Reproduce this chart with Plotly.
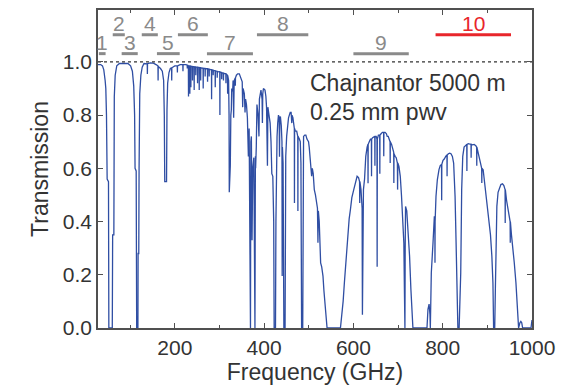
import plotly.graph_objects as go

# ---- spectrum: atmospheric transmission, Chajnantor 5000 m, 0.25 mm pwv ----
freq_ghz = [
    28, 34, 38, 41, 44, 45.5, 47, 48.5, 51.5, 52.3, 60.0, 60.8, 63.5, 64.5, 66.5, 70, 76, 85, 95,
    101, 105, 108, 110, 111, 113.5, 114.6, 117.4, 117.8, 119.3, 120, 121.5, 124, 127, 131,
    136, 138.3, 138.6, 138.9, 145, 152, 158, 162.3, 162.6, 162.9, 168, 172, 175, 176.5, 177.5,
    181.5, 182.5, 184, 187, 190, 192.8, 193.1, 193.4, 200, 205.5, 205.8, 206.1, 212, 218,
    218.3, 218.6, 225,
    227.7, 228, 228.3, 230.4, 230.7, 231, 233.4, 233.7, 234, 235.7, 236, 236.3, 239.4, 239.7, 240,
    243.1, 243.4, 243.7, 246.7, 247, 247.3, 250.7, 251, 251.3, 254.4, 254.7, 255, 257.7, 258, 258.3,
    263.3, 263.6, 263.9, 267.7, 268, 268.3, 273.1, 273.4, 273.7, 276.7, 277, 277.3, 282.1, 282.4, 282.7,
    285.7, 286, 286.3, 290.3, 290.6, 290.9, 294.7, 295, 295.3, 300.7, 301, 301.3, 304.7, 305, 305.3,
    308.7, 309, 309.3, 314.3, 314.6, 314.9, 318, 318.3, 318.6,
    320.5, 321.5, 322, 323.5, 324.3, 325.5, 326.6, 327.5, 329.6, 330.5, 331.8, 333, 335.3, 335.6, 335.9,
    338, 340.8, 344.5, 347, 349.8, 351, 352, 353, 355.8, 357.3, 358.5, 360.5, 362.6, 364.8, 366.5,
    368.0, 368.6, 369.5, 370.3, 371.5, 373, 374.5, 377, 378.3, 379.5, 380.5,
    381, 382.5, 384, 386.5, 388.5, 389.5, 391, 393, 395.5, 396.2, 397, 398.5, 402, 404, 405.5, 407.5,
    408.5, 411, 413.5, 415.5, 417.3, 419.5, 421.5, 422.5, 425.5, 426.5, 427.5, 429, 430.5, 432.2,
    433.8, 434.5, 435.2, 436.5, 438.5, 440, 440.5, 441, 442.5, 443.8, 444.3, 447, 447.5, 448.5, 450.5,
    452.5, 454.7, 456.5, 458.5, 460.5, 462, 462.5, 464.5, 466, 467.7, 468, 468.3, 470, 473, 475.4,
    475.7, 476, 479, 481, 482.5, 483.5, 484, 486.5, 487, 488.4, 491, 493.5, 496, 499.5, 501, 503.4,
    505, 506.5, 508, 510, 512.4, 515, 517, 519.5, 520.6, 521.5, 523.5, 526.6, 529, 531.9, 534, 536.3,
    538.5, 541, 571, 574.5, 577, 579.8, 583, 585.8, 588.5, 590.5, 593.3, 596.5, 600.8, 604.5, 608.3,
    611.5, 613.8, 614.2, 614.6, 617, 619.5, 620.2, 621, 622.5, 625, 627.7, 630.7, 632.5, 632.8, 633.1,
    635.5, 638.2, 640.3, 640.6, 640.9, 643, 645.7, 647.9, 648.2, 648.5, 651, 652.8, 653.2, 653.6, 656,
    658.9, 659.2, 659.5, 662, 665, 667.7, 668, 668.3, 671, 674, 675.7, 678, 679.4, 682.1, 682.4, 682.7,
    685.5, 688.4, 690.3, 690.6, 690.9, 693.5, 695.9, 698.5, 699, 699.5, 702, 705, 707.8, 710.8, 713,
    714.2, 714.6, 715.4, 716, 716.8, 719.5, 722.8, 725.8, 728.8, 731, 733.3, 764.8, 767, 769.5, 771.5,
    772.3, 773, 774.5, 778.3, 781.3, 782.5, 782.7, 783, 785, 788, 791.7, 794.5, 797.4, 797.7, 798,
    800.7, 803.5, 806.7, 809.5, 809.8, 810.1, 812.7, 815.7, 818.5, 821.7, 824.5, 827.7, 830, 832.2,
    834, 836.8, 838.5, 840.4, 842.5, 844.9, 847.9, 851.7, 853.9, 854.2, 854.5, 857.5, 860.6, 863.4,
    863.7, 864, 866.6, 870.5, 874.1, 876, 876.3, 876.6, 878.6, 881.6, 885, 887.3, 887.6, 887.9, 890.6,
    894.3, 897.5, 901.1, 904.1, 907, 910.1, 912.5, 914, 916.5, 918, 919.1, 921.3, 924, 926.6, 930.3,
    934, 937, 939.7, 940, 940.3, 943, 945.3, 948.5, 951, 951.3, 951.6, 954, 956.5, 960.3, 964, 967.8,
    970, 973, 975, 977, 979, 997.7, 999.5, 1000,
]
transmission = [
    0.99, 0.99, 0.985, 0.97, 0.93, 0.90, 0.80, 0.56, 0.55, 0.0, 0.0, 0.35, 0.35, 0.87, 0.95, 0.985, 0.994, 0.995, 0.994,
    0.985, 0.965, 0.91, 0.80, 0.60, 0.59, 0.0, 0.0, 0.28, 0.28, 0.60, 0.88, 0.95, 0.98, 0.994,
    0.995, 0.993, 0.955, 0.993, 0.996, 0.995, 0.99, 0.985, 0.93, 0.983, 0.975, 0.965, 0.93, 0.80, 0.55,
    0.55, 0.82, 0.92, 0.96, 0.975, 0.978, 0.93, 0.978, 0.985, 0.985, 0.96, 0.985, 0.99, 0.99,
    0.965, 0.99, 0.99,
    0.988, 0.975, 0.988, 0.985, 0.87, 0.985, 0.985, 0.88, 0.984, 0.984, 0.905, 0.984, 0.983, 0.93, 0.983,
    0.982, 0.894, 0.982, 0.981, 0.95, 0.981, 0.98, 0.92, 0.98, 0.979, 0.894, 0.979, 0.978, 0.93, 0.978,
    0.976, 0.90, 0.976, 0.975, 0.945, 0.975, 0.974, 0.925, 0.974, 0.973, 0.945, 0.972, 0.97, 0.86, 0.97,
    0.969, 0.95, 0.968, 0.967, 0.905, 0.966, 0.965, 0.94, 0.964, 0.962, 0.80, 0.962, 0.96, 0.935, 0.96,
    0.958, 0.93, 0.957, 0.955, 0.92, 0.955, 0.95, 0.88, 0.948,
    0.93, 0.80, 0.51, 0.55, 0.61, 0.80, 0.82, 0.90, 0.89, 0.93, 0.79, 0.93, 0.94, 0.91, 0.94,
    0.95, 0.955, 0.955, 0.945, 0.93, 0.925, 0.83, 0.90, 0.88, 0.81, 0.86, 0.84, 0.79, 0.645, 0.75,
    0.35, 0.0, 0.0, 0.70, 0.72, 0.33, 0.60, 0.64, 0.0, 0.0, 0.645,
    0.60, 0.68, 0.84, 0.80, 0.72, 0.86, 0.88, 0.894, 0.86, 0.77, 0.88, 0.90, 0.894, 0.87, 0.83, 0.61,
    0.83, 0.80, 0.77, 0.70, 0.58, 0.57, 0.40, 0.0, 0.0, 0.40, 0.57, 0.72, 0.77, 0.80,
    0.79, 0.644, 0.79, 0.795, 0.76, 0.70, 0.195, 0.68, 0.62, 0.30, 0.0, 0.0, 0.45, 0.645, 0.72,
    0.76, 0.79, 0.80, 0.81, 0.81, 0.77, 0.80, 0.79, 0.77, 0.75, 0.47, 0.75, 0.74, 0.74, 0.72,
    0.44, 0.72, 0.71, 0.70, 0.62, 0.30, 0.0, 0.0, 0.40, 0.72, 0.725, 0.725, 0.71, 0.70, 0.68, 0.645,
    0.60, 0.57, 0.60, 0.58, 0.52, 0.50, 0.48, 0.45, 0.32, 0.44, 0.40, 0.245, 0.23, 0.195, 0.14, 0.095,
    0.05, 0.0, 0.0, 0.05, 0.10, 0.17, 0.25, 0.32, 0.37, 0.41, 0.445, 0.49, 0.52, 0.55, 0.57,
    0.565, 0.55, 0.47, 0.55, 0.52, 0.45, 0.05, 0.40, 0.52, 0.56, 0.645, 0.68, 0.69, 0.544, 0.69,
    0.70, 0.71, 0.71, 0.57, 0.71, 0.715, 0.72, 0.72, 0.61, 0.72, 0.72, 0.71, 0.23, 0.71, 0.725,
    0.725, 0.58, 0.725, 0.73, 0.735, 0.735, 0.645, 0.735, 0.735, 0.73, 0.72, 0.72, 0.713, 0.70, 0.62, 0.70,
    0.69, 0.67, 0.66, 0.545, 0.655, 0.645, 0.64, 0.62, 0.52, 0.62, 0.607, 0.57, 0.495, 0.37, 0.32,
    0.15, 0.0, 0.0, 0.30, 0.457, 0.44, 0.357, 0.27, 0.145, 0.07, 0.0, 0.0, 0.07, 0.09, 0.05,
    0.0, 0.05, 0.208, 0.32, 0.42, 0.40, 0.245, 0.40, 0.495, 0.557, 0.595, 0.61, 0.615, 0.48, 0.615,
    0.63, 0.635, 0.645, 0.65, 0.57, 0.65, 0.655, 0.657, 0.655, 0.645, 0.62, 0.495, 0.32, 0.12,
    0.0, 0.0, 0.10, 0.208, 0.52, 0.645, 0.68, 0.688, 0.69, 0.59, 0.69, 0.693, 0.69, 0.69,
    0.64, 0.69, 0.688, 0.69, 0.685, 0.68, 0.61, 0.68, 0.665, 0.645, 0.625, 0.60, 0.545, 0.60, 0.595,
    0.544, 0.50, 0.445, 0.395, 0.35, 0.27, 0.17, 0.0, 0.0, 0.15, 0.27, 0.457, 0.51, 0.526, 0.539,
    0.542, 0.535, 0.52, 0.395, 0.52, 0.48, 0.457, 0.43, 0.40, 0.32, 0.40, 0.35, 0.295, 0.245, 0.17, 0.045,
    0.0, 0.02, 0.025, 0.02, 0.0, 0.0, 0.03, 0.03,
]

# ---- ALMA receiver bands ----
band_labels = ["1", "2", "3", "4", "5", "6", "7", "8", "9", "10"]
band_lo = [30, 61, 81, 126, 160, 207, 272, 384, 600, 784]
band_hi = [45, 88, 117, 162, 211, 274, 375, 499, 724, 953]
band_level = [1.031, 1.102, 1.031, 1.102, 1.031, 1.102, 1.031, 1.102, 1.031, 1.102]
label_level = [1.072, 1.143, 1.072, 1.143, 1.072, 1.143, 1.072, 1.143, 1.072, 1.143]
band_colors = ["#8a8a8a"] * 9 + ["#e8262b"]

annotation_lines = ["Chajnantor 5000 m", "0.25 mm pwv"]
annotation_y = [0.919, 0.812]
annotation_x = 499

x_range = [28, 1000]
y_range = [0, 1.195]

FONT = "Liberation Sans, Arial, sans-serif"
TXT = "#333333"
AX = "#505050"

fig = go.Figure()

fig.add_trace(go.Scatter(
    x=freq_ghz, y=transmission, mode="lines",
    line=dict(color="#2f4ea3", width=1.3), hoverinfo="skip",
))

# unity reference (dotted)
fig.add_trace(go.Scatter(
    x=x_range, y=[1.0, 1.0], mode="lines",
    line=dict(color="#333333", width=1.2, dash="dot"), hoverinfo="skip",
))

for lab, lo, hi, lev, tlev, col in zip(band_labels, band_lo, band_hi, band_level, label_level, band_colors):
    fig.add_trace(go.Scatter(
        x=[lo, hi], y=[lev, lev], mode="lines",
        line=dict(color=col, width=3), hoverinfo="skip",
    ))
    fig.add_annotation(
        x=(lo + hi) / 2, y=tlev, xref="x", yref="y", text=lab, showarrow=False,
        font=dict(family=FONT, size=21, color=col), xanchor="center", yanchor="middle",
    )

for txt, yy in zip(annotation_lines, annotation_y):
    fig.add_annotation(
        x=annotation_x, y=yy, xref="x", yref="y", text=txt, showarrow=False,
        font=dict(family=FONT, size=23, color=TXT), xanchor="left", yanchor="middle",
    )

fig.update_layout(
    width=568, height=387,
    margin=dict(l=98, r=36, t=8, b=59),
    paper_bgcolor="white", plot_bgcolor="white",
    showlegend=False, hovermode=False,
    font=dict(family=FONT, color=TXT),
)

fig.update_xaxes(
    range=x_range, tick0=0, dtick=200, ticks="inside", ticklen=5, tickwidth=1.2, tickcolor=AX,
    showline=True, linecolor=AX, linewidth=1.5, mirror="ticks", showgrid=False, zeroline=False,
    tickfont=dict(family=FONT, size=21, color=TXT),
    minor=dict(tick0=0, dtick=100, ticks="inside", ticklen=3, tickwidth=1.2, tickcolor=AX),
    title=dict(text="Frequency (GHz)", font=dict(family=FONT, size=23, color=TXT), standoff=4),
)
fig.update_yaxes(
    range=y_range, tick0=0, dtick=0.2, tickformat=".1f", ticks="inside", ticklen=5, tickwidth=1.2,
    tickcolor=AX, showline=True, linecolor=AX, linewidth=1.5, mirror="ticks", showgrid=False,
    zeroline=False, tickfont=dict(family=FONT, size=21, color=TXT),
    title=dict(text="Transmission", font=dict(family=FONT, size=23, color=TXT), standoff=8),
)

fig.write_html("out.html")
